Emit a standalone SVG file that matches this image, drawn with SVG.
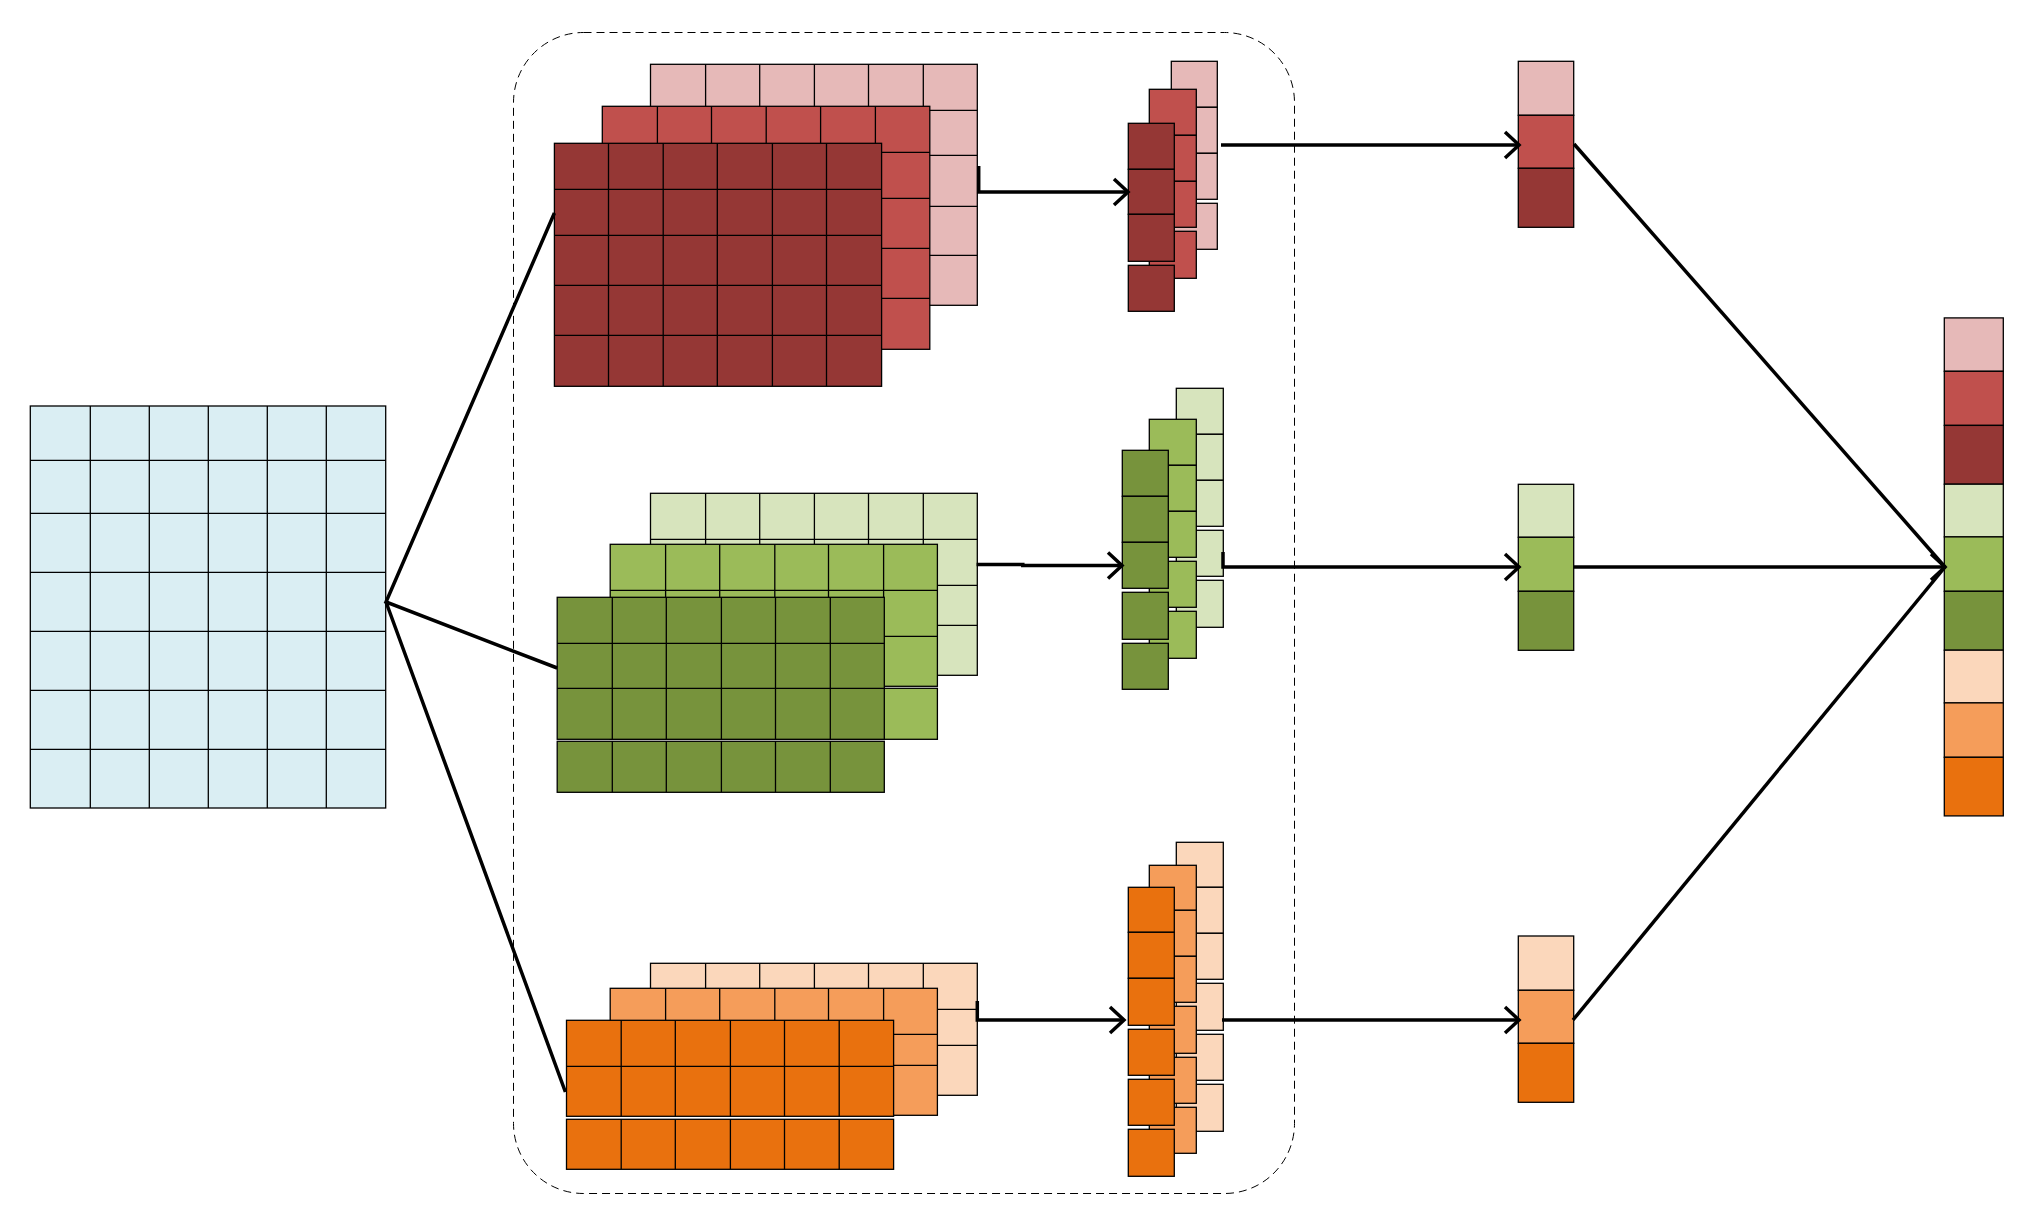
<svg xmlns="http://www.w3.org/2000/svg" width="2026" height="1217" viewBox="0 0 2026 1217">
<style>
.c{stroke:#000;stroke-width:1.3}
.g{fill:none;stroke:#000;stroke-width:1.3}
.in{fill:#DAEEF3}
.r1{fill:#E6B9B8}.r2{fill:#C0504D}.r3{fill:#953735}
.g1{fill:#D7E4BD}.g2{fill:#9BBB59}.g3{fill:#77933C}
.o1{fill:#FBD7BB}.o2{fill:#F59D5A}.o3{fill:#E9710E}
.ln{fill:none;stroke:#000;stroke-width:3.5}
</style>
<defs>
<marker id="ah" markerUnits="userSpaceOnUse" markerWidth="40" markerHeight="40" viewBox="-20 -20 40 40" refX="0" refY="0" orient="auto">
<path d="M-14,-13 L0,0 L-14,13" fill="none" stroke="#000" stroke-width="3.5"/>
</marker>
</defs>
<rect id="group-box" x="513.5" y="32.5" width="781" height="1161" rx="70" ry="70" fill="none" stroke="#000" stroke-width="1" stroke-dasharray="8,5"/>
<g id="input">
<rect class="c in" x="30.3" y="406" width="355.4" height="402"/>
<path class="g" d="M90.3,406V808M149.3,406V808M208.3,406V808M267.3,406V808M326.3,406V808M30.3,460.3H385.7M30.3,513.3H385.7M30.3,572.3H385.7M30.3,631.3H385.7M30.3,690.3H385.7M30.3,749.3H385.7"/>
</g>
<g id="red-maps">
<rect class="c r1" x="650.5" y="64.3" width="326.8" height="241"/>
<path class="g" d="M705.6,64.3V305.3M759.7,64.3V305.3M814.4,64.3V305.3M868.5,64.3V305.3M923.3,64.3V305.3M650.5,110.3H977.3M650.5,155.3H977.3M650.5,206.3H977.3M650.5,255.3H977.3"/>
<rect class="c r2" x="602.3" y="106.3" width="327.5" height="243"/>
<path class="g" d="M657.4,106.3V349.3M711.5,106.3V349.3M766.2,106.3V349.3M820.6,106.3V349.3M875.4,106.3V349.3M602.3,152.3H929.8M602.3,198.3H929.8M602.3,248.3H929.8M602.3,298.3H929.8"/>
<rect class="c r3" x="554.4" y="143.3" width="327.2" height="243"/>
<path class="g" d="M608.5,143.3V386.3M663.2,143.3V386.3M717.3,143.3V386.3M772.4,143.3V386.3M826.5,143.3V386.3M554.4,189.3H881.6M554.4,235.3H881.6M554.4,285.3H881.6M554.4,335.3H881.6"/>
</g>
<g id="green-maps">
<rect class="c g1" x="650.5" y="493.3" width="326.8" height="182"/>
<path class="g" d="M705.6,493.3V675.3M759.7,493.3V675.3M814.4,493.3V675.3M868.5,493.3V675.3M923.3,493.3V675.3M650.5,539.3H977.3M650.5,585.3H977.3M650.5,625.3H977.3"/>
<rect class="c g2" x="610.2" y="544.3" width="327.2" height="142"/>
<path class="g" d="M665.6,544.3V686.3M719.7,544.3V686.3M774.8,544.3V686.3M828.5,544.3V686.3M883.6,544.3V686.3M610.2,590.3H937.4M610.2,636.3H937.4"/>
<rect class="c g2" x="610.2" y="688.3" width="327.2" height="51"/>
<path class="g" d="M665.6,688.3V739.3M719.7,688.3V739.3M774.8,688.3V739.3M828.5,688.3V739.3M883.6,688.3V739.3"/>
<rect class="c g3" x="557.2" y="597.3" width="327.1" height="142"/>
<path class="g" d="M612.3,597.3V739.3M666.3,597.3V739.3M721.4,597.3V739.3M775.5,597.3V739.3M830.3,597.3V739.3M557.2,643.3H884.3M557.2,688.3H884.3"/>
<rect class="c g3" x="557.2" y="741.3" width="327.1" height="51"/>
<path class="g" d="M612.3,741.3V792.3M666.3,741.3V792.3M721.4,741.3V792.3M775.5,741.3V792.3M830.3,741.3V792.3"/>
</g>
<g id="orange-maps">
<rect class="c o1" x="650.5" y="963.3" width="326.8" height="132"/>
<path class="g" d="M705.6,963.3V1095.3M759.7,963.3V1095.3M814.4,963.3V1095.3M868.5,963.3V1095.3M923.3,963.3V1095.3M650.5,1009.3H977.3M650.5,1045.3H977.3"/>
<rect class="c o2" x="610.2" y="988.3" width="327.2" height="127"/>
<path class="g" d="M665.6,988.3V1115.3M719.7,988.3V1115.3M774.8,988.3V1115.3M828.5,988.3V1115.3M883.6,988.3V1115.3M610.2,1034.3H937.4M610.2,1065.3H937.4"/>
<rect class="c o3" x="566.5" y="1020.3" width="327.1" height="96"/>
<path class="g" d="M621.2,1020.3V1116.3M675.3,1020.3V1116.3M730.4,1020.3V1116.3M784.5,1020.3V1116.3M839.2,1020.3V1116.3M566.5,1066.3H893.6"/>
<rect class="c o3" x="566.5" y="1119.3" width="327.1" height="50"/>
<path class="g" d="M621.2,1119.3V1169.3M675.3,1119.3V1169.3M730.4,1119.3V1169.3M784.5,1119.3V1169.3M839.2,1119.3V1169.3"/>
</g>
<g id="red-pooled">
<rect class="c r1" x="1171.3" y="61.3" width="46" height="46"/>
<rect class="c r1" x="1171.3" y="107.3" width="46" height="46"/>
<rect class="c r1" x="1171.3" y="153.3" width="46" height="46"/>
<rect class="c r1" x="1171.3" y="203.3" width="46" height="46"/>
<rect class="c r2" x="1149.3" y="89.3" width="47" height="46"/>
<rect class="c r2" x="1149.3" y="135.3" width="47" height="46"/>
<rect class="c r2" x="1149.3" y="181.3" width="47" height="46"/>
<rect class="c r2" x="1149.3" y="231.3" width="47" height="47"/>
<rect class="c r3" x="1128.3" y="123.3" width="46" height="46"/>
<rect class="c r3" x="1128.3" y="169.3" width="46" height="45"/>
<rect class="c r3" x="1128.3" y="214.3" width="46" height="47"/>
<rect class="c r3" x="1128.3" y="265.3" width="46" height="46"/>
</g>
<g id="green-pooled">
<rect class="c g1" x="1176.3" y="388.3" width="47" height="46"/>
<rect class="c g1" x="1176.3" y="434.3" width="47" height="46"/>
<rect class="c g1" x="1176.3" y="480.3" width="47" height="46"/>
<rect class="c g1" x="1176.3" y="530.3" width="47" height="46"/>
<rect class="c g1" x="1176.3" y="580.3" width="47" height="47"/>
<rect class="c g2" x="1149.3" y="419.3" width="47" height="46"/>
<rect class="c g2" x="1149.3" y="465.3" width="47" height="46"/>
<rect class="c g2" x="1149.3" y="511.3" width="47" height="46"/>
<rect class="c g2" x="1149.3" y="561.3" width="47" height="46"/>
<rect class="c g2" x="1149.3" y="611.3" width="47" height="47"/>
<rect class="c g3" x="1122.3" y="450.3" width="46" height="46"/>
<rect class="c g3" x="1122.3" y="496.3" width="46" height="46"/>
<rect class="c g3" x="1122.3" y="542.3" width="46" height="46"/>
<rect class="c g3" x="1122.3" y="592.3" width="46" height="47"/>
<rect class="c g3" x="1122.3" y="643.3" width="46" height="46"/>
</g>
<g id="orange-pooled">
<rect class="c o1" x="1176.3" y="842.3" width="47" height="45"/>
<rect class="c o1" x="1176.3" y="887.3" width="47" height="46"/>
<rect class="c o1" x="1176.3" y="933.3" width="47" height="46"/>
<rect class="c o1" x="1176.3" y="983.3" width="47" height="47"/>
<rect class="c o1" x="1176.3" y="1034.3" width="47" height="46"/>
<rect class="c o1" x="1176.3" y="1084.3" width="47" height="47"/>
<rect class="c o2" x="1149.3" y="865.3" width="47" height="45"/>
<rect class="c o2" x="1149.3" y="910.3" width="47" height="46"/>
<rect class="c o2" x="1149.3" y="956.3" width="47" height="46"/>
<rect class="c o2" x="1149.3" y="1006.3" width="47" height="47"/>
<rect class="c o2" x="1149.3" y="1057.3" width="47" height="46"/>
<rect class="c o2" x="1149.3" y="1107.3" width="47" height="46"/>
<rect class="c o3" x="1128.3" y="887.3" width="46" height="45"/>
<rect class="c o3" x="1128.3" y="932.3" width="46" height="46"/>
<rect class="c o3" x="1128.3" y="978.3" width="46" height="47"/>
<rect class="c o3" x="1128.3" y="1029.3" width="46" height="46"/>
<rect class="c o3" x="1128.3" y="1079.3" width="46" height="46"/>
<rect class="c o3" x="1128.3" y="1129.3" width="46" height="47"/>
</g>
<g id="red-vector">
<rect class="c r1" x="1518.3" y="61.3" width="55.4" height="54"/>
<rect class="c r2" x="1518.3" y="115.3" width="55.4" height="53"/>
<rect class="c r3" x="1518.3" y="168.3" width="55.4" height="59"/>
</g>
<g id="green-vector">
<rect class="c g1" x="1518.3" y="484.3" width="55.4" height="53"/>
<rect class="c g2" x="1518.3" y="537.3" width="55.4" height="54"/>
<rect class="c g3" x="1518.3" y="591.3" width="55.4" height="59"/>
</g>
<g id="orange-vector">
<rect class="c o1" x="1518.3" y="936" width="55.4" height="54.3"/>
<rect class="c o2" x="1518.3" y="990.3" width="55.4" height="53"/>
<rect class="c o3" x="1518.3" y="1043.3" width="55.4" height="59"/>
</g>
<g id="concat-vector">
<rect class="c r1" x="1944.3" y="317.9" width="59" height="53.4"/>
<rect class="c r2" x="1944.3" y="371.3" width="59" height="54.1"/>
<rect class="c r3" x="1944.3" y="425.4" width="59" height="58.8"/>
<rect class="c g1" x="1944.3" y="484.2" width="59" height="52.7"/>
<rect class="c g2" x="1944.3" y="536.9" width="59" height="54.4"/>
<rect class="c g3" x="1944.3" y="591.3" width="59" height="58.9"/>
<rect class="c o1" x="1944.3" y="650.2" width="59" height="52.7"/>
<rect class="c o2" x="1944.3" y="702.9" width="59" height="54.4"/>
<rect class="c o3" x="1944.3" y="757.3" width="59" height="58.6"/>
</g>
<g id="connectors">
<path class="ln" d="M554.4,213 L386,602 L557.2,668 M386,602 L565.4,1092"/>
<path class="ln" d="M978.7,166 V192 H1128" marker-end="url(#ah)"/>
<path class="ln" d="M976.6,564.5 H1022.8 V565.5 H1122" marker-end="url(#ah)"/>
<path class="ln" d="M977.3,1001 V1020 H1124" marker-end="url(#ah)"/>
<path class="ln" d="M1221,145 H1519" marker-end="url(#ah)"/>
<path class="ln" d="M1223,552 V567 H1519" marker-end="url(#ah)"/>
<path class="ln" d="M1222,1020 H1519" marker-end="url(#ah)"/>
<path class="ln" d="M1574,144 L1945,567"/>
<path class="ln" d="M1573,1020 L1945,567"/>
<path class="ln" d="M1574,567 L1945,567" marker-end="url(#ah)"/>
</g>
</svg>
